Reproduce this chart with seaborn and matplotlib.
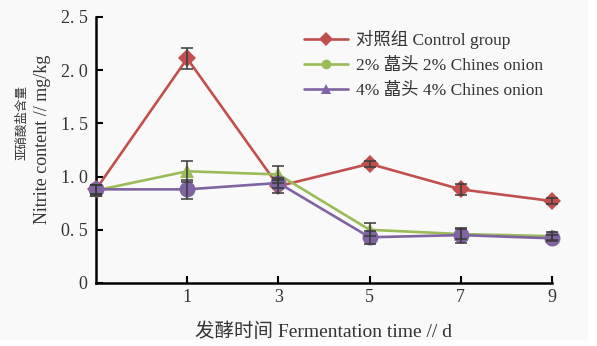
import matplotlib
matplotlib.use("Agg")
import matplotlib.pyplot as plt
from matplotlib.lines import Line2D
from matplotlib.patches import Rectangle
import seaborn as sns
import pandas as pd

# Fermentation days and nitrite content (mg/kg), mean and error
days = [0, 1, 3, 5, 7, 9]
control_mean = [0.88, 2.11, 0.91, 1.12, 0.88, 0.77]
control_err = [0.04, 0.10, 0.06, 0.03, 0.05, 0.03]
onion2_mean = [0.87, 1.05, 1.02, 0.50, 0.46, 0.44]
onion2_err = [0.05, 0.10, 0.08, 0.06, 0.05, 0.04]
onion4_mean = [0.88, 0.88, 0.94, 0.43, 0.45, 0.42]
onion4_err = [0.04, 0.09, 0.05, 0.06, 0.07, 0.03]

series_names = ["对照组 Control group", "2% 藠头 2% Chines onion", "4% 藠头 4% Chines onion"]
colors = ["#c0504d", "#9bbb59", "#8064a2"]
plot_markers = ["D", "^", "o"]
marker_sizes = [9, 10.5, 11.5]
legend_markers = ["D", "o", "^"]
x_tick_labels = ["1", "3", "5", "7", "9"]
y_ticks = [0, 0.5, 1.0, 1.5, 2.0, 2.5]
y_tick_labels = ["0", "0. 5", "1. 0", "1. 5", "2. 0", "2. 5"]

sns.set_theme(style="ticks")
plt.rcParams["font.family"] = ["Liberation Serif", "Noto Sans CJK SC"]

means = [control_mean, onion2_mean, onion4_mean]
errs = [control_err, onion2_err, onion4_err]
pos = list(range(len(days)))

rows = []
for name, m, e in zip(series_names, means, errs):
    for p, d, v, s in zip(pos, days, m, e):
        rows.append({"pos": p, "day": d, "value": v, "err": s, "group": name})
df = pd.DataFrame(rows)

fig = plt.figure(figsize=(5.97, 3.46), dpi=100)
fig.patch.set_facecolor("white")
fig.patches.append(Rectangle((0, 0.017), 0.985, 0.983, transform=fig.transFigure,
                             facecolor="#f9f9f9", edgecolor="none", zorder=-10))
ax = fig.add_axes([0.1608, 0.1821, 0.7638, 0.7688])
ax.set_facecolor("#f9f9f9")

for name, c, mk, ms in zip(series_names, colors, plot_markers, marker_sizes):
    sub = df[df["group"] == name]
    sns.lineplot(data=sub, x="pos", y="value", color=c, marker=mk, markersize=ms,
                 markeredgewidth=0, linewidth=1.9, legend=False, ax=ax, zorder=3,
                 clip_on=False)
    eb = ax.errorbar(sub["pos"], sub["value"], yerr=sub["err"], fmt="none",
                     ecolor="#3a3a3a", elinewidth=1.1, capsize=4.5, capthick=1.1, zorder=4)
    for art in eb.lines[1] + eb.lines[2]:
        art.set_clip_on(False)

ax.set_xlim(0, 5)
ax.set_ylim(0, 2.5)
ax.set_xticks(pos[1:])
ax.set_xticklabels(x_tick_labels)
ax.set_yticks(y_ticks)
ax.set_yticklabels(y_tick_labels)
ax.tick_params(direction="in", length=5, width=1.5, labelsize=13, colors="black",
               labelcolor="#333333", pad=6)
ax.tick_params(axis="x", pad=4)
for side in ["top", "right"]:
    ax.spines[side].set_visible(False)
for side in ["left", "bottom"]:
    ax.spines[side].set_linewidth(1.8)
    ax.spines[side].set_color("black")
ax.set_xlabel("发酵时间 Fermentation time // d", fontsize=14, color="#333333", labelpad=12)
ax.set_ylabel("")

fig.text(22 / 597, 1 - 122 / 346, "亚硝酸盐含量", rotation=90, ha="center", va="center",
         fontsize=9, color="#333333")
fig.text(43 / 597, 1 - 139 / 346, "Nitrite content // mg/kg", rotation=90, ha="center",
         va="center", fontsize=13, color="#333333")

handles = [Line2D([0], [0], color=c, marker=mk, markersize=7, linewidth=1.9,
                  markeredgewidth=0) for c, mk in zip(colors, legend_markers)]
ax.legend(handles, series_names, loc="upper left", bbox_to_anchor=(0.43, 0.995),
          frameon=False, fontsize=12.5, handlelength=2.5, labelspacing=0.5,
          handletextpad=0.5, labelcolor="#333333", borderaxespad=0.3)

fig.savefig("out.png", dpi=100, facecolor=fig.get_facecolor())
